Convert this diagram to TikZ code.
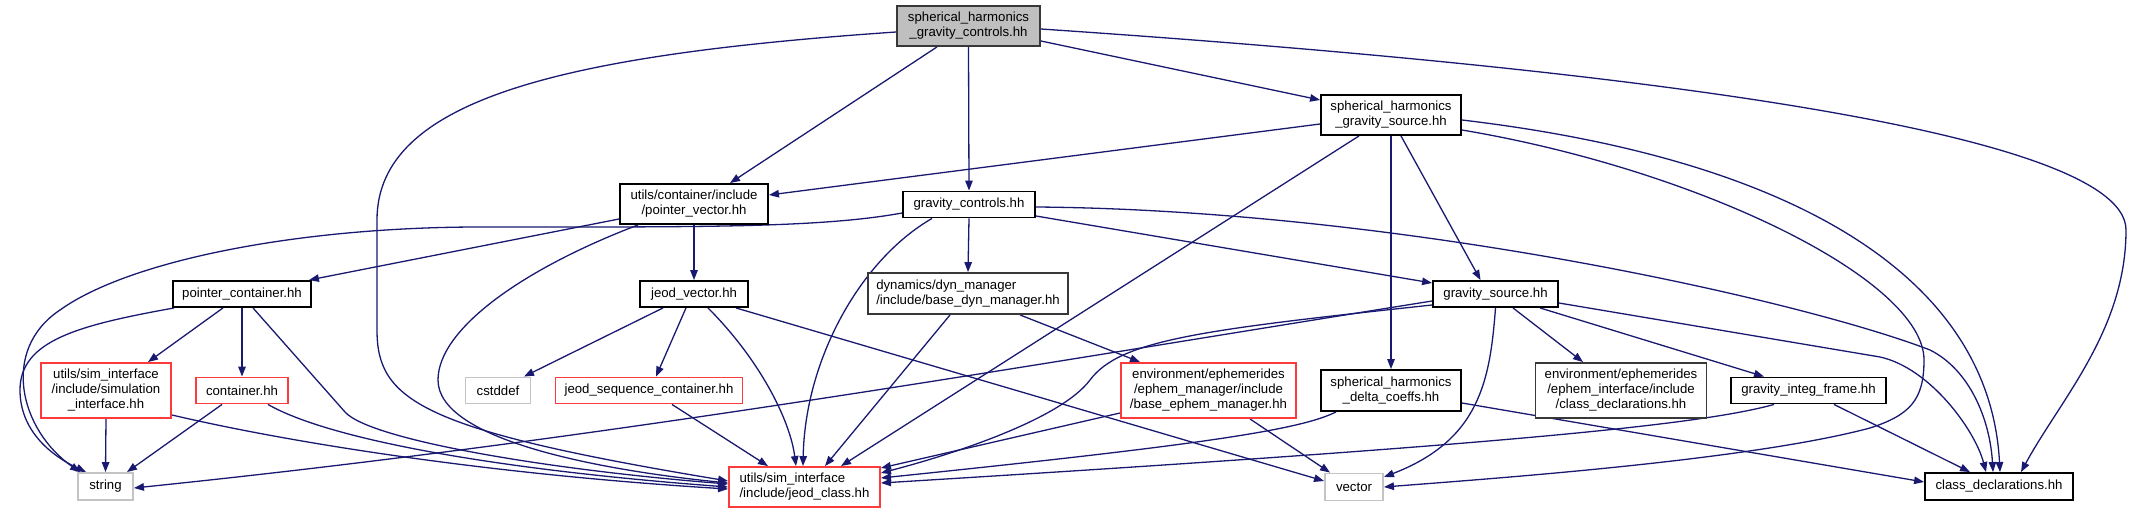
\documentclass[tikz,border=0pt]{standalone}
\usepackage{fontspec}
\setmainfont{Liberation Sans}
\usetikzlibrary{arrows.meta}
\definecolor{edgec}{HTML}{191970}
\definecolor{redb}{HTML}{FF3A3A}
\definecolor{grayb}{HTML}{C4C4C4}
\definecolor{rootfill}{HTML}{BFBFBF}
\definecolor{darkb}{HTML}{383838}
\pgfdeclarelayer{bg}
\pgfsetlayers{bg,main}
\begin{document}
\begin{tikzpicture}[x=1pt,y=-1pt,
  every node/.style={font=\fontsize{13.2}{15}\selectfont},
  nodebox/.style={draw=black, line width=1.9pt, fill=white, inner sep=0pt, align=center},
  redbox/.style={nodebox, draw=redb},
  graybox/.style={nodebox, draw=grayb},
  darkbox/.style={nodebox, draw=darkb},
  rootbox/.style={nodebox, draw=darkb, fill=rootfill},
  edge/.style={draw=edgec, line width=1.3pt, -{Triangle[length=10pt,width=7.5pt]}},
]
\useasboundingbox (0,0) rectangle (2131,513);

% nodes
\node[rootbox, minimum width=143pt, minimum height=40pt] (M) at (968.5,26) {spherical\_harmonics\\\_gravity\_controls.hh};
\node[nodebox, minimum width=140pt, minimum height=40pt] (S) at (1391,115) {spherical\_harmonics\\\_gravity\_source.hh};
\node[nodebox, minimum width=148pt, minimum height=40pt] (PV) at (694,204) {utils/container/include\\/pointer\_vector.hh};
\node[nodebox, minimum width=132pt, minimum height=26pt] (GC) at (969,204.5) {gravity\_controls.hh};
\node[nodebox, minimum width=138pt, minimum height=26pt] (PC) at (242,294) {pointer\_container.hh};
\node[nodebox, minimum width=108pt, minimum height=26pt] (JV) at (694,294) {jeod\_vector.hh};
\node[darkbox, align=left, minimum width=200pt, minimum height=41pt] (DM) at (968,293.5) {dynamics/dyn\_manager\\/include/base\_dyn\_manager.hh};
\node[nodebox, minimum width=125pt, minimum height=26pt] (GS) at (1495.5,294) {gravity\_source.hh};
\node[redbox, minimum width=130pt, minimum height=55pt] (SI) at (106,390.5) {utils/sim\_interface\\/include/simulation\\\_interface.hh};
\node[redbox, minimum width=92pt, minimum height=26pt] (CT) at (242,390.5) {container.hh};
\node[graybox, minimum width=65pt, minimum height=26pt] (CD) at (498,390.5) {cstddef};
\node[redbox, minimum width=187pt, minimum height=26pt] (JS) at (649,390.5) {jeod\_sequence\_container.hh};
\node[redbox, minimum width=175pt, minimum height=55pt] (BE) at (1208.5,390.5) {environment/ephemerides\\/ephem\_manager/include\\/base\_ephem\_manager.hh};
\node[nodebox, minimum width=140pt, minimum height=41pt] (DC) at (1391,390.5) {spherical\_harmonics\\\_delta\_coeffs.hh};
\node[darkbox, minimum width=171pt, minimum height=55pt] (EI) at (1621,390.5) {environment/ephemerides\\/ephem\_interface/include\\/class\_declarations.hh};
\node[nodebox, minimum width=155pt, minimum height=26pt] (GI) at (1808.5,390.5) {gravity\_integ\_frame.hh};
\node[graybox, minimum width=55pt, minimum height=27pt] (ST) at (105.5,486.5) {string};
\node[redbox, align=left, minimum width=151pt, minimum height=40pt] (JC) at (804.5,487) {utils/sim\_interface\\/include/jeod\_class.hh};
\node[graybox, minimum width=58pt, minimum height=27pt] (VE) at (1354,487) {vector};
\node[nodebox, minimum width=148pt, minimum height=27pt] (CL) at (1999,486.5) {class\_declarations.hh};

\begin{pgfonlayer}{bg}
% from root
\draw[edge] ([yshift=-6pt]M.west) .. controls (560,55) and (377,100) .. (377,220) -- (377,330) .. controls (377,400) and (420,430) .. ([yshift=6pt]JC.west);
\draw[edge] ([xshift=-31.5pt]M.south) -- ([xshift=36pt]PV.north);
\draw[edge] (M.south) -- (GC.north);
\draw[edge] ([yshift=-15pt]M.east) -- ([yshift=15pt]S.west);
\draw[edge] ([yshift=-3pt]M.east) .. controls (1500,60) and (2126,120) .. (2126,230) .. controls (2126,330) and (2060,400) .. ([xshift=22pt]CL.north);
% from spherical_harmonics_gravity_source
\draw[edge] ([yshift=-9pt]S.west) -- ([yshift=9pt]PV.east);
\draw[edge] ([xshift=-32pt]S.south) -- ([xshift=36.5pt]JC.north);
\draw[edge] (S.south) -- (DC.north);
\draw[edge] ([xshift=10pt]S.south) -- ([xshift=-15pt]GS.north);
\draw[edge] ([yshift=-15pt]S.east) .. controls (1700,170) and (1924,280) .. (1924,360) .. controls (1924,400) and (1910,415) .. (1870,428) .. controls (1750,460) and (1500,478) .. (VE.east);
\draw[edge] ([yshift=-5pt]S.east) .. controls (1800,160) and (1990,280) .. ([xshift=1pt]CL.north);
% from pointer_vector
\draw[edge] ([yshift=-15pt]PV.west) -- ([xshift=-3pt]PC.north east);
\draw[edge] (PV.south) -- (JV.north);
\draw[edge] ([xshift=-56pt]PV.south) .. controls (520,270) and (438,330) .. (438,380) .. controls (438,440) and (600,470) .. ([yshift=4pt]JC.west);
% from gravity_controls
\draw[edge] ([yshift=-8.5pt]GC.west) .. controls (820,228) and (700,227) .. (480,227) .. controls (300,227) and (130,260) .. (60,310) .. controls (0,350) and (20,430) .. ([xshift=3pt]ST.north west);
\draw[edge] (GC.south) -- (DM.north);
\draw[edge] ([xshift=-37pt]GC.south) .. controls (860,260) and (805,360) .. ([xshift=-1.5pt]JC.north);
\draw[edge] ([yshift=-11.5pt]GC.east) -- ([yshift=11pt]GS.west);
\draw[edge] ([yshift=-2.5pt]GC.east) .. controls (1400,210) and (1800,300) .. (1930,350) .. controls (1970,370) and (1990,420) .. ([xshift=-6pt]CL.north);
% from pointer_container
\draw[edge] ([xshift=2pt]PC.south west) .. controls (80,325) and (20,340) .. (20,390) .. controls (20,430) and (50,455) .. ([xshift=9pt]ST.north west);
\draw[edge] ([xshift=-19pt]PC.south) -- ([xshift=42pt]SI.north);
\draw[edge] (PC.south) -- (CT.north);
\draw[edge] ([xshift=11pt]PC.south) -- (345,412) .. controls (370,440) and (550,470) .. ([yshift=3pt]JC.west);
% from jeod_vector
\draw[edge] ([xshift=-31pt]JV.south) -- ([xshift=26pt]CD.north);
\draw[edge] ([xshift=-8pt]JV.south) -- ([xshift=7pt]JS.north);
\draw[edge] ([xshift=14pt]JV.south) .. controls (760,360) and (790,420) .. ([xshift=-8.5pt]JC.north);
\draw[edge] ([xshift=42pt]JV.south) -- ([yshift=6pt]VE.west);
% from base_dyn_manager
\draw[edge] ([xshift=-18pt]DM.south) -- ([xshift=20.5pt]JC.north);
\draw[edge] ([xshift=52pt]DM.south) -- ([xshift=-68.5pt]BE.north);
% from gravity_source
\draw[edge] ([yshift=-7pt]GS.west) .. controls (1000,370) and (600,440) .. ([yshift=-1.5pt]ST.east);
\draw[edge] ([yshift=-11pt]GS.west) .. controls (1200,330) and (1120,340) .. (1090,380) .. controls (1060,420) and (950,455) .. ([yshift=14pt]JC.east);
\draw[edge] (GS.south) .. controls (1490,380) and (1480,440) .. ([yshift=10pt]VE.east);
\draw[edge] ([xshift=17.5pt]GS.south) -- ([xshift=-38pt]EI.north);
\draw[edge] ([xshift=44.5pt]GS.south) -- ([xshift=-44.5pt]GI.north);
\draw[edge] ([yshift=-9pt]GS.east) -- (1880,357) .. controls (1930,368) and (1975,430) .. ([xshift=-13pt]CL.north);
% from simulation_interface
\draw[edge] (SI.south) -- (ST.north);
\draw[edge] ([yshift=-24.5pt]SI.east) .. controls (300,445) and (500,475) .. ([yshift=-2pt]JC.west);
% from container
\draw[edge] ([xshift=-20pt]CT.south) -- ([xshift=21.5pt]ST.north);
\draw[edge] ([xshift=26pt]CT.south) .. controls (330,440) and (500,470) .. (JC.west);
% from jeod_sequence_container
\draw[edge] ([xshift=23pt]JS.south) -- ([xshift=-36.5pt]JC.north);
% from base_ephem_manager
\draw[edge] ([yshift=-22.5pt]BE.west) -- ([yshift=19pt]JC.east);
\draw[edge] ([xshift=41.5pt]BE.south) -- ([xshift=-24pt]VE.north);
% from delta_coeffs
\draw[edge] ([xshift=-55pt]DC.south) .. controls (1300,430) and (1200,445) .. ([yshift=9pt]JC.east);
\draw[edge] ([yshift=-12.5pt]DC.east) -- ([yshift=4.5pt]CL.west);
% from gravity_integ_frame
\draw[edge] ([xshift=-34.5pt]GI.south) .. controls (1700,425) and (1500,445) .. ([yshift=4pt]JC.east);
\draw[edge] ([xshift=25.5pt]GI.south) -- ([xshift=-29pt]CL.north);
\end{pgfonlayer}
\end{tikzpicture}
\end{document}
